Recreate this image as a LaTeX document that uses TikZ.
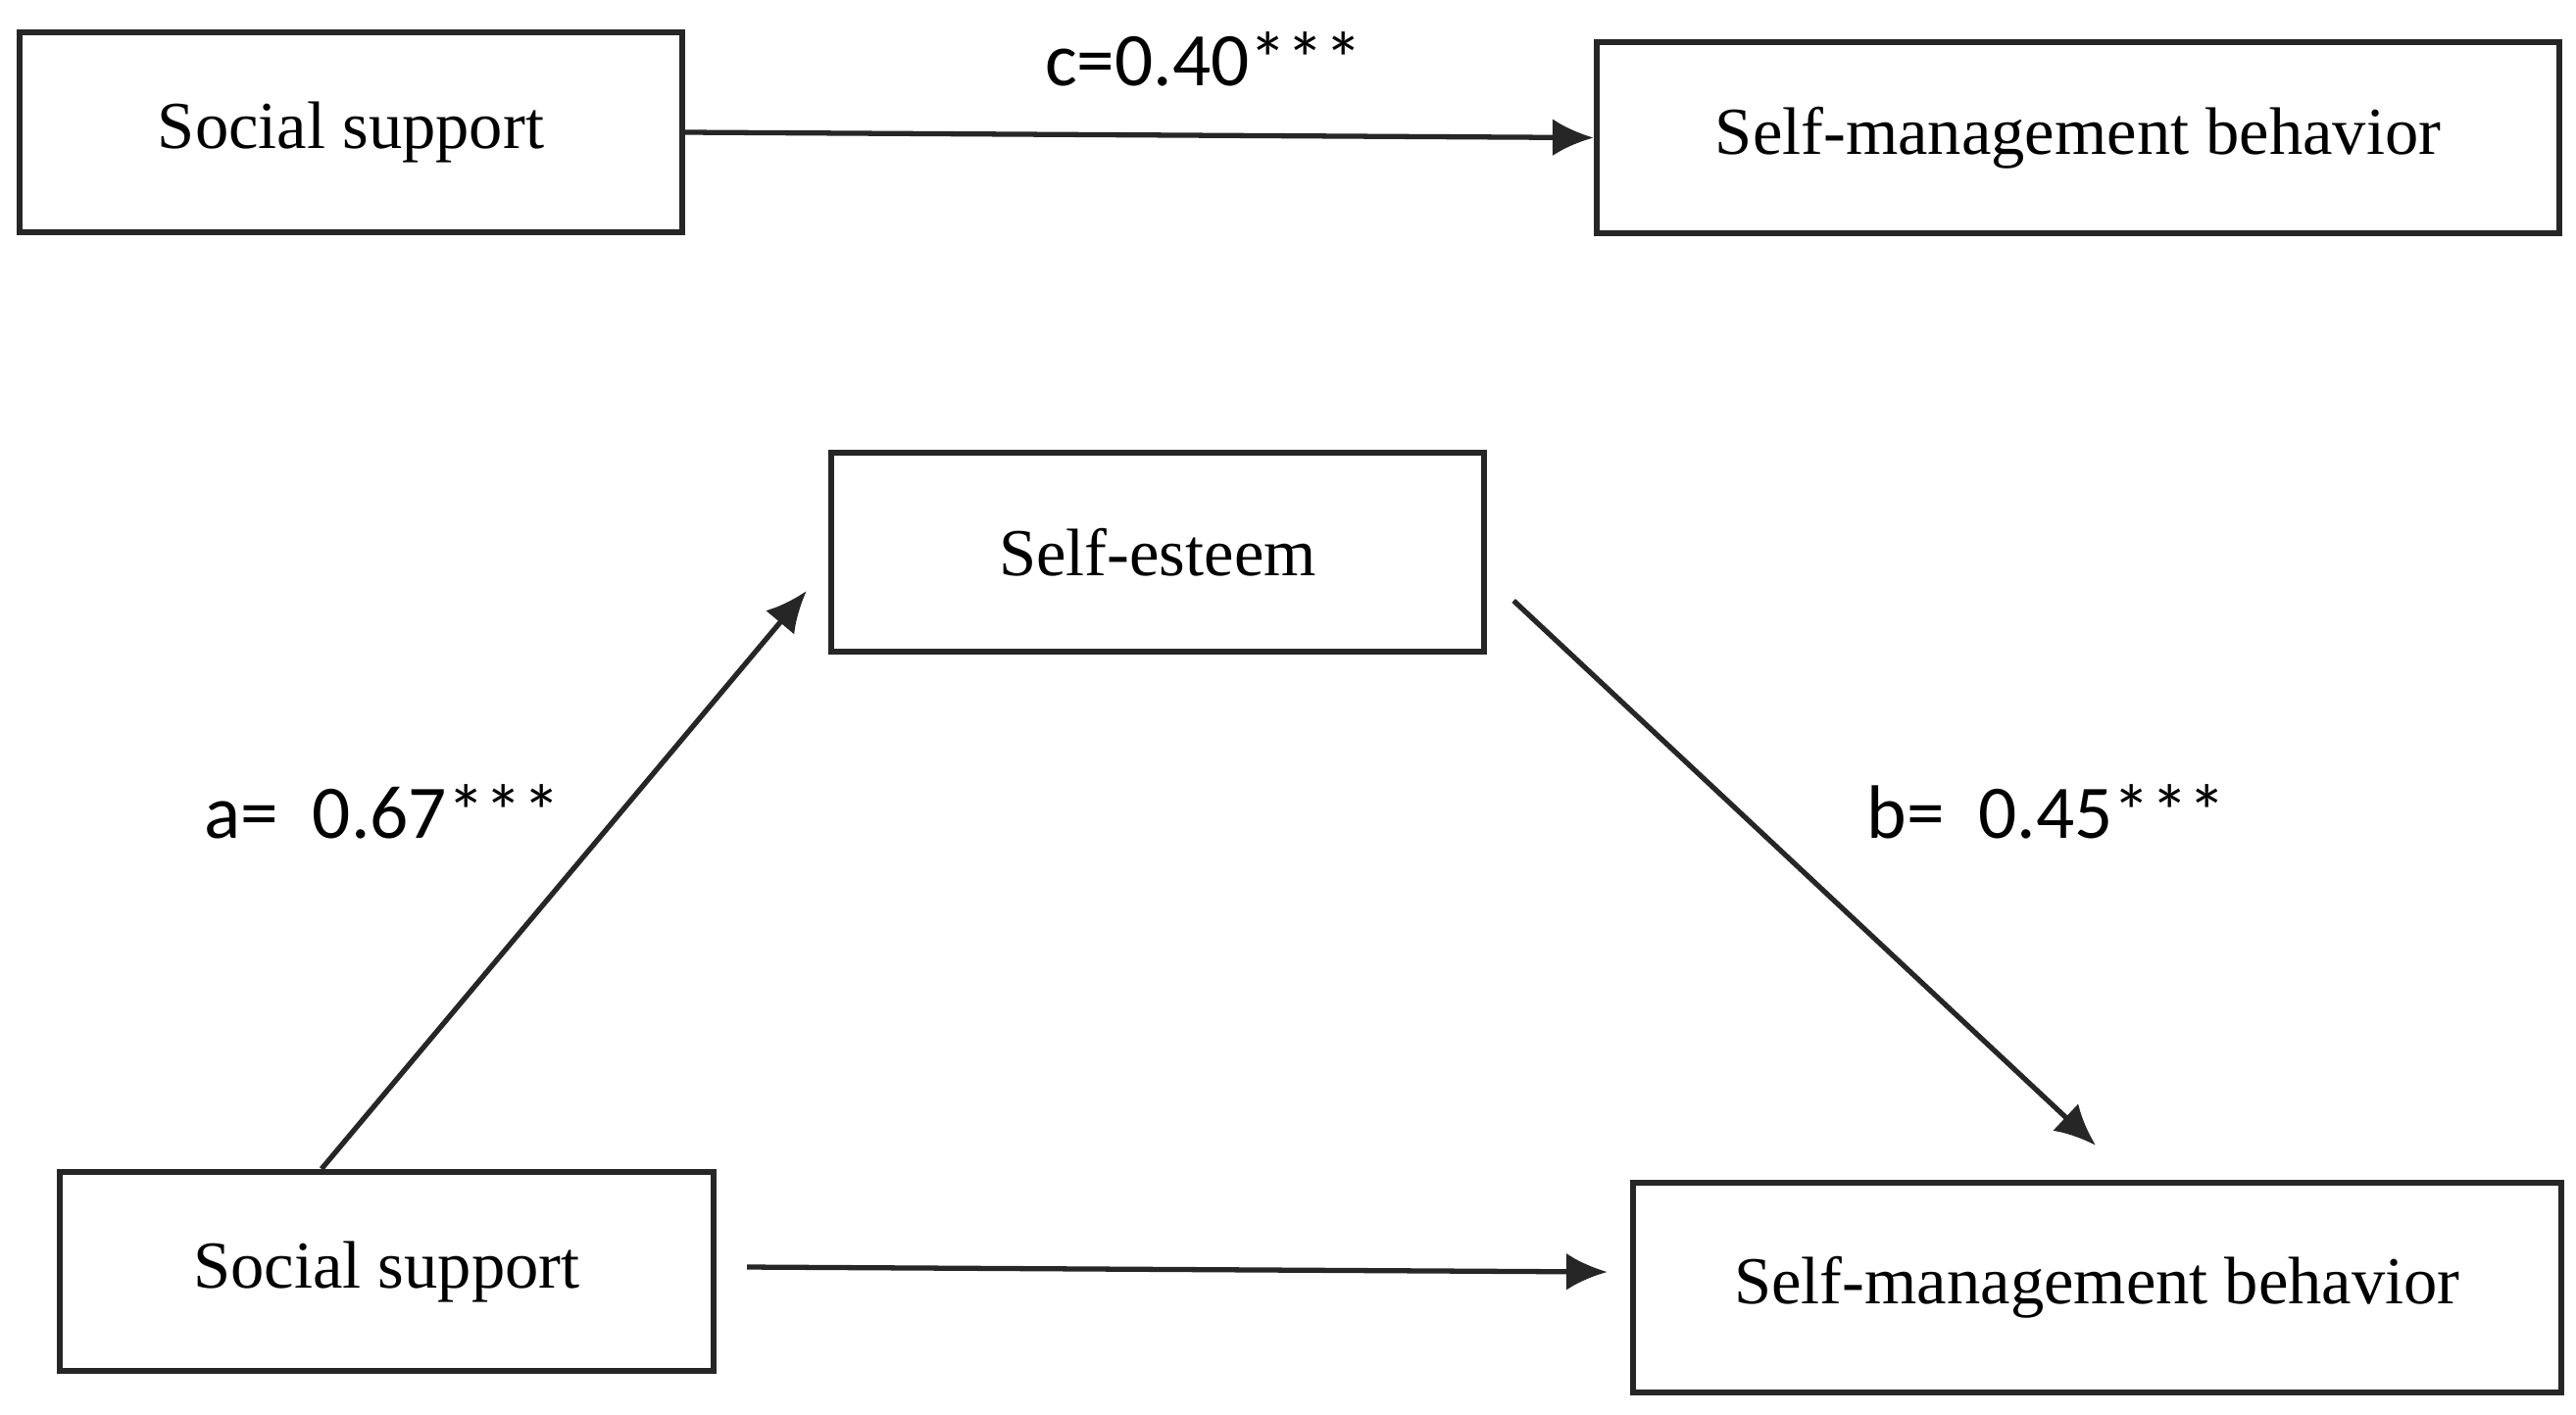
\documentclass[tikz,border=0pt]{standalone}
\usepackage{fontspec}
\setmainfont{Liberation Serif}
\newfontfamily\coeffont{Carlito}
\usetikzlibrary{calc,arrows.meta}
\tikzset{
	varbox/.style={draw=black!85, line width=1.8pt, inner sep=0pt, font=\fontsize{19.5}{23}\selectfont},
	pathline/.style={draw=black!85, line width=1.5pt, -{Latex[length=4.2mm,width=3.8mm]}},
	coef/.style={anchor=base, font=\coeffont\fontsize{22}{26}\selectfont}
}

\begin{document}
\begin{tikzpicture}
			%%%%% START %%%%%
			\useasboundingbox (0, 0) rectangle (26.28, -14.43);
			
			% total effect
			\node[varbox, minimum width=6.76cm, minimum height=2.04cm] (ss1) at (3.58, -1.35) {Social support};
			\node[varbox, minimum width=9.82cm, minimum height=1.95cm] (smb1) at (21.2, -1.405) {Self-management behavior};
			\draw[pathline] (ss1.east) -- (smb1.west);
			\node[coef] (c) at (12.28, -0.87) {c=0.40***};
			
			% mediation
			\node[varbox, minimum width=6.66cm, minimum height=2.03cm] (se) at (11.81, -5.635) {Self-esteem};
			\node[varbox, minimum width=6.67cm, minimum height=2.03cm] (ss2) at (3.945, -12.975) {Social support};
			\node[varbox, minimum width=9.47cm, minimum height=2.14cm] (smb2) at (21.395, -13.14) {Self-management behavior};
			
			\draw[pathline] ([xshift=-0.665cm]ss2.north) -- ([shift={(-0.22, -0.395)}]se.west);
			\draw[pathline] ([shift={(0.27, -0.495)}]se.east) -- ([shift={(-0.015, 0.35)}]smb2.north);
			\draw[pathline] ([shift={(0.31, 0.045)}]ss2.east) -- ([shift={(-0.23, 0.16)}]smb2.west);
			
			\node[coef] (a) at (3.9, -8.55) {a=~ 0.67***};
			\node[coef] (b) at (20.88, -8.55) {b=~ 0.45***};
			
			%%%%% END %%%%%
\end{tikzpicture}
\end{document}
